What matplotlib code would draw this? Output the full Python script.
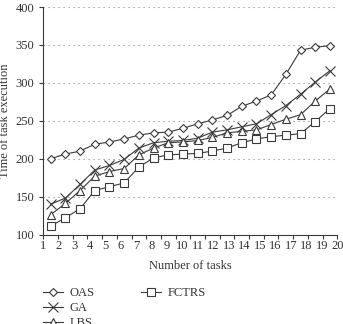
import matplotlib
matplotlib.use("Agg")
import matplotlib.pyplot as plt
import numpy as np

tasks = list(range(1, 21))
tick_labels = [str(t) for t in tasks]
oas = [200, 206, 210, 219, 222, 226, 231, 234, 235, 240, 246, 251, 257, 269, 276, 284, 311, 343, 347, 349]
ga = [140, 148, 166, 185, 191, 199, 214, 221, 223, 224, 227, 235, 238, 242, 246, 258, 270, 285, 301, 316]
lbs = [126, 141, 158, 177, 183, 187, 205, 214, 221, 222, 224, 228, 234, 236, 238, 245, 252, 258, 276, 292]
fctrs = [111, 122, 134, 158, 163, 168, 189, 201, 205, 206, 207, 210, 214, 221, 226, 229, 231, 233, 249, 266]

plt.rcParams['font.family'] = ['Liberation Serif', 'DejaVu Serif']
col = '#3a3a3a'

fig = plt.figure(figsize=(3.43, 3.24), dpi=100)
ax = fig.add_axes([43.3/343, 1 - 234.5/324, 294/343, 227.5/324])

mk = dict(color=col, lw=0.8, mfc='white', mec=col, mew=0.8)
l1, = ax.plot(tasks, oas, marker='D', ms=4.5, label='OAS', **mk)
l2, = ax.plot(tasks, ga, marker='x', ms=7, label='GA', **mk)
l3, = ax.plot(tasks, lbs, marker='^', ms=6, label='LBS', **mk)
l4, = ax.plot(tasks, fctrs, marker='s', ms=5.5, label='FCTRS', **mk)

n = len(tasks)
ax.set_xlim(0.5, n + 0.5)
ax.set_ylim(100, 400)
ax.xaxis.remove_overlapping_locs = False
ax.set_xticks(np.arange(0.5, n + 1, 1.0))
ax.set_xticklabels([])
ax.set_xticks(np.linspace(0.5, n + 0.5, n), minor=True)
ax.set_xticklabels(tick_labels, minor=True)
ax.tick_params(axis='x', which='major', direction='out', length=3, width=0.8, color=col)
ax.tick_params(axis='x', which='minor', length=0, labelsize=9, pad=4, labelcolor='#333333')
ax.set_yticks(np.arange(100, 401, 50))
ax.tick_params(axis='y', direction='out', length=3, width=0.8, color=col, labelsize=9, labelcolor='#333333')
for s in ['top', 'right']:
    ax.spines[s].set_visible(False)
for s in ['left', 'bottom']:
    ax.spines[s].set_color(col)
    ax.spines[s].set_linewidth(0.8)
ax.yaxis.grid(True, linestyle=(0, (1, 3.5)), color='#888888', lw=0.8)
ax.set_axisbelow(True)

ax.set_xlabel('Number of tasks', fontsize=9, color='#333333', labelpad=6)
ax.set_ylabel('Time of task execution', fontsize=9, color='#333333', labelpad=3)

leg1 = fig.legend(handles=[l1, l2, l3], loc='upper left', bbox_to_anchor=(37/343, 1 - 281/324),
                  frameon=False, fontsize=9, handlelength=1.6, handletextpad=0.5,
                  labelspacing=0.25, borderpad=0, labelcolor='#333333')
leg2 = fig.legend(handles=[l4], loc='upper left', bbox_to_anchor=(135/343, 1 - 281/324),
                  frameon=False, fontsize=9, handlelength=1.6, handletextpad=0.5,
                  borderpad=0, labelcolor='#333333')

fig.savefig('out.png', dpi=100)
